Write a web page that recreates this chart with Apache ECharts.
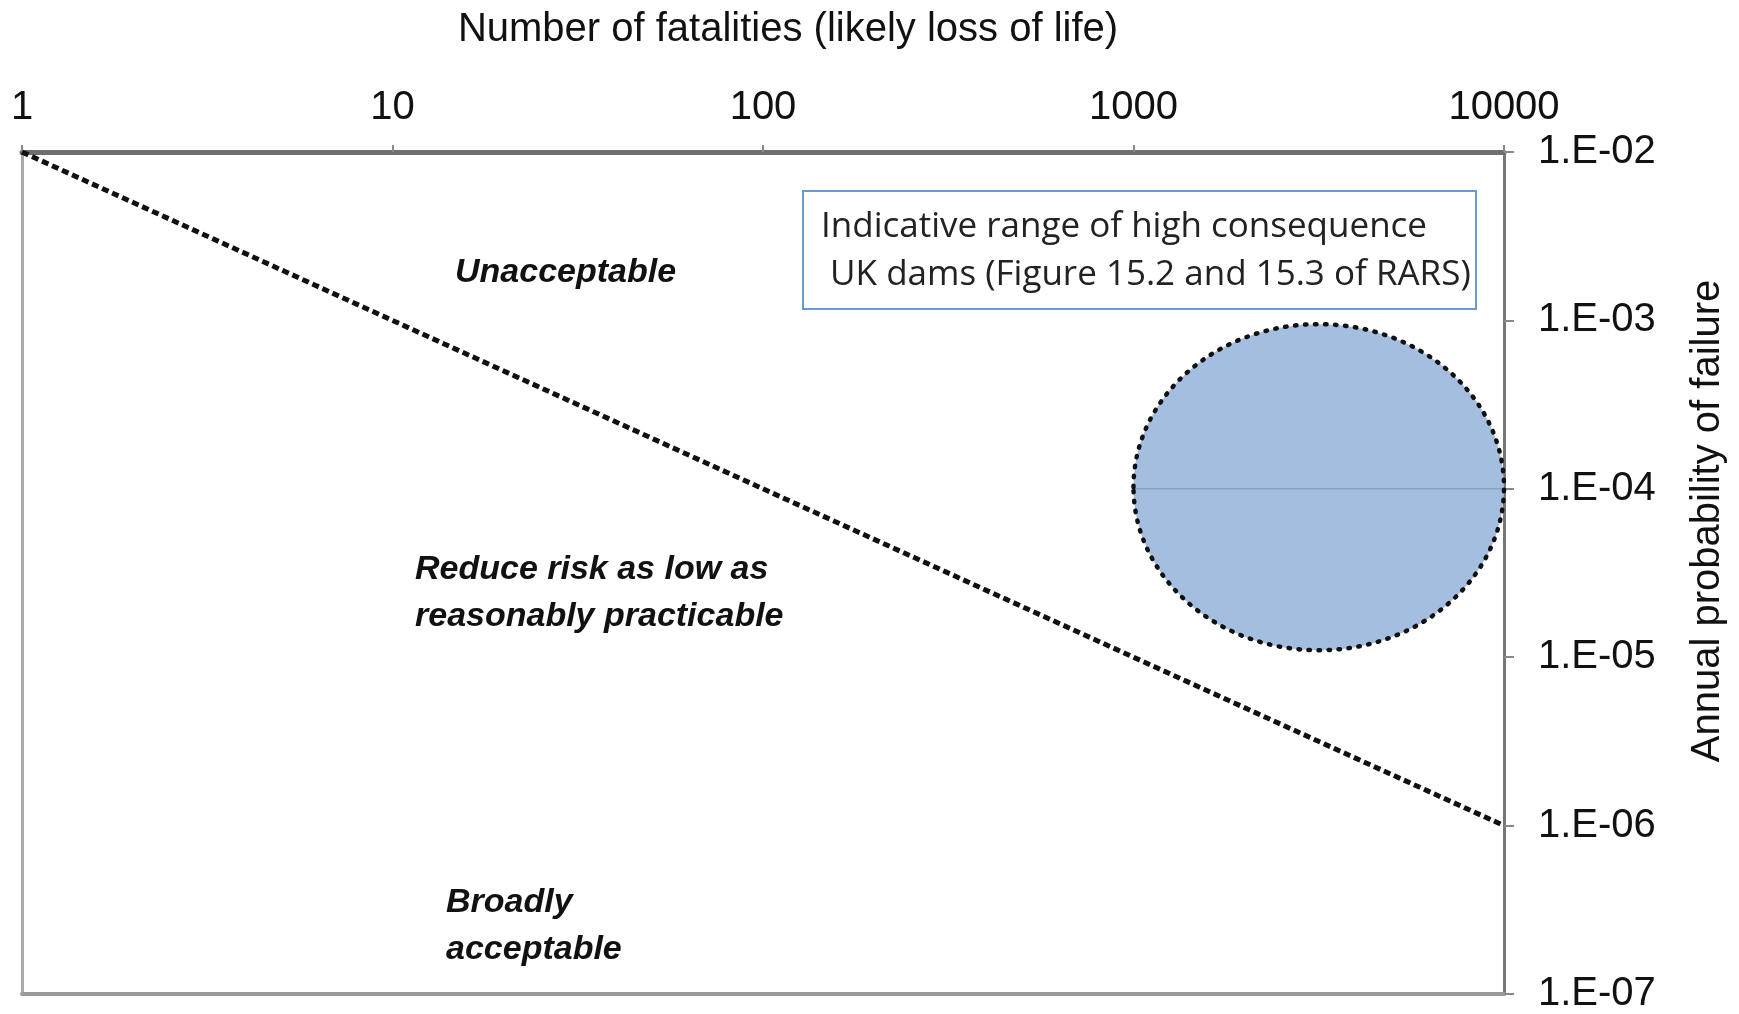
<!DOCTYPE html>
<html>
<head>
<meta charset="utf-8">
<title>Societal risk – UK dams</title>
<script src="https://cdn.jsdelivr.net/npm/echarts@6/dist/echarts.min.js"></script>
<style>
  html, body { margin: 0; padding: 0; background: #fff; }
  #chart { width: 1739px; height: 1014px; }
</style>
</head>
<body>
<div id="chart"></div>
<script>
  // axis ranges (fatalities, annual probability)
  let fatalityRange = [1, 10000];
  let probabilityRange = [1e-7, 1e-2];
  // tolerability limit line
  let limitX = [1, 10000];
  let limitY = [1e-2, 1e-6];
  // high consequence UK dams: x from / to, y from / to
  let damRangeX = [1000, 10000];
  let damRangeY = [1.1e-5, 9.5e-4];
  let damMidY = 1e-4;
  let regionLabels = ['Unacceptable', 'Reduce risk as low as\nreasonably practicable', 'Broadly\nacceptable'];
  let boxLines = ['Indicative range of high consequence', ' UK dams (Figure 15.2 and 15.3 of RARS)'];

  let chart = echarts.init(document.getElementById('chart'));
  let font = 'Liberation Sans, Arial, sans-serif';

  let regionStyle = {
    font: 'italic bold 34px ' + font,
    fill: '#111',
    lineHeight: 47
  };

  let option = {
    animation: false,
    backgroundColor: '#fff',
    grid: { left: 22, right: 235, top: 152, bottom: 17 },
    xAxis: [{
      type: 'log',
      logBase: 10,
      position: 'top',
      min: fatalityRange[0],
      max: fatalityRange[1],
      axisLine: { lineStyle: { color: '#6e6e6e', width: 5 } },
      axisTick: { show: true, length: 7, lineStyle: { color: '#888', width: 2 } },
      axisLabel: {
        fontSize: 40, fontFamily: font, color: '#111', margin: 24,
        formatter: function (v) { return String(Math.round(v)); }
      },
      splitLine: { show: false },
      minorTick: { show: false }
    }, {
      type: 'log',
      logBase: 10,
      position: 'bottom',
      min: fatalityRange[0],
      max: fatalityRange[1],
      axisLine: { lineStyle: { color: '#9a9a9a', width: 4 } },
      axisTick: { show: false },
      axisLabel: { show: false },
      splitLine: { show: false }
    }],
    yAxis: [{
      type: 'log',
      logBase: 10,
      position: 'right',
      min: probabilityRange[0],
      max: probabilityRange[1],
      axisLine: { lineStyle: { color: '#777', width: 3 } },
      axisTick: { show: true, length: 10, lineStyle: { color: '#888', width: 2 } },
      axisLabel: {
        fontSize: 40,
        fontFamily: font,
        color: '#111',
        margin: 34,
        formatter: function (v) {
          let e = Math.round(Math.log10(v));
          return '1.E-' + String(-e).padStart(2, '0');
        }
      },
      splitLine: { show: false }
    }, {
      type: 'log',
      logBase: 10,
      position: 'left',
      min: probabilityRange[0],
      max: probabilityRange[1],
      axisLine: { lineStyle: { color: '#aaa', width: 3 } },
      axisTick: { show: false },
      axisLabel: { show: false },
      splitLine: { show: false }
    }],
    series: [{
      type: 'custom',
      name: 'UK dams',
      xAxisIndex: 0,
      yAxisIndex: 0,
      data: [[damRangeX[0], damRangeX[1], damRangeY[0], damRangeY[1], damMidY]],
      renderItem: function (params, api) {
        let p1 = api.coord([api.value(0), api.value(2)]);
        let p2 = api.coord([api.value(1), api.value(3)]);
        let m1 = api.coord([api.value(0), api.value(4)]);
        let m2 = api.coord([api.value(1), api.value(4)]);
        let shape = {
          cx: (p1[0] + p2[0]) / 2,
          cy: (p1[1] + p2[1]) / 2,
          rx: Math.abs(p2[0] - p1[0]) / 2,
          ry: Math.abs(p2[1] - p1[1]) / 2
        };
        return {
          type: 'group',
          children: [
            { type: 'ellipse', shape: shape, style: { fill: '#a4bedf', stroke: null } },
            { type: 'line', shape: { x1: m1[0], y1: m1[1], x2: m2[0], y2: m2[1] },
              style: { stroke: '#86a2c7', lineWidth: 1.5 } },
            { type: 'ellipse', shape: shape,
              style: { fill: null, stroke: '#111', lineWidth: 4.5, lineDash: [1.5, 8.5], lineCap: 'round' } }
          ]
        };
      },
      z: 2
    }, {
      type: 'line',
      name: 'Limit',
      xAxisIndex: 0,
      yAxisIndex: 0,
      data: limitX.map(function (x, i) { return [x, limitY[i]]; }),
      showSymbol: false,
      lineStyle: { color: '#111', width: 5, type: [7, 4] },
      z: 3
    }],
    graphic: [
      {
        type: 'text', x: 788, y: 30,
        style: { text: 'Number of fatalities (likely loss of life)', font: '40px ' + font, fill: '#111',
          align: 'center', verticalAlign: 'middle' }
      },
      {
        type: 'text', x: 1708, y: 521, rotation: Math.PI / 2,
        style: { text: 'Annual probability of failure', font: '40px ' + font, fill: '#111',
          align: 'center', verticalAlign: 'middle' }
      },
      { type: 'text', x: 455, y: 273, style: Object.assign({ text: regionLabels[0], verticalAlign: 'middle' }, regionStyle) },
      { type: 'text', x: 415, y: 546, style: Object.assign({ text: regionLabels[1] }, regionStyle) },
      { type: 'text', x: 446, y: 879, style: Object.assign({ text: regionLabels[2] }, regionStyle) },
      {
        type: 'rect', shape: { x: 803, y: 191, width: 673, height: 118 },
        style: { fill: '#fff', stroke: '#6a98d0', lineWidth: 2 }, z: 10
      },
      {
        type: 'text', x: 821, y: 203, z: 11,
        style: { text: boxLines.join('\n'), font: '35px "Open Sans", sans-serif', fill: '#222', lineHeight: 48 }
      }
    ]
  };

  chart.setOption(option);
</script>
</body>
</html>
